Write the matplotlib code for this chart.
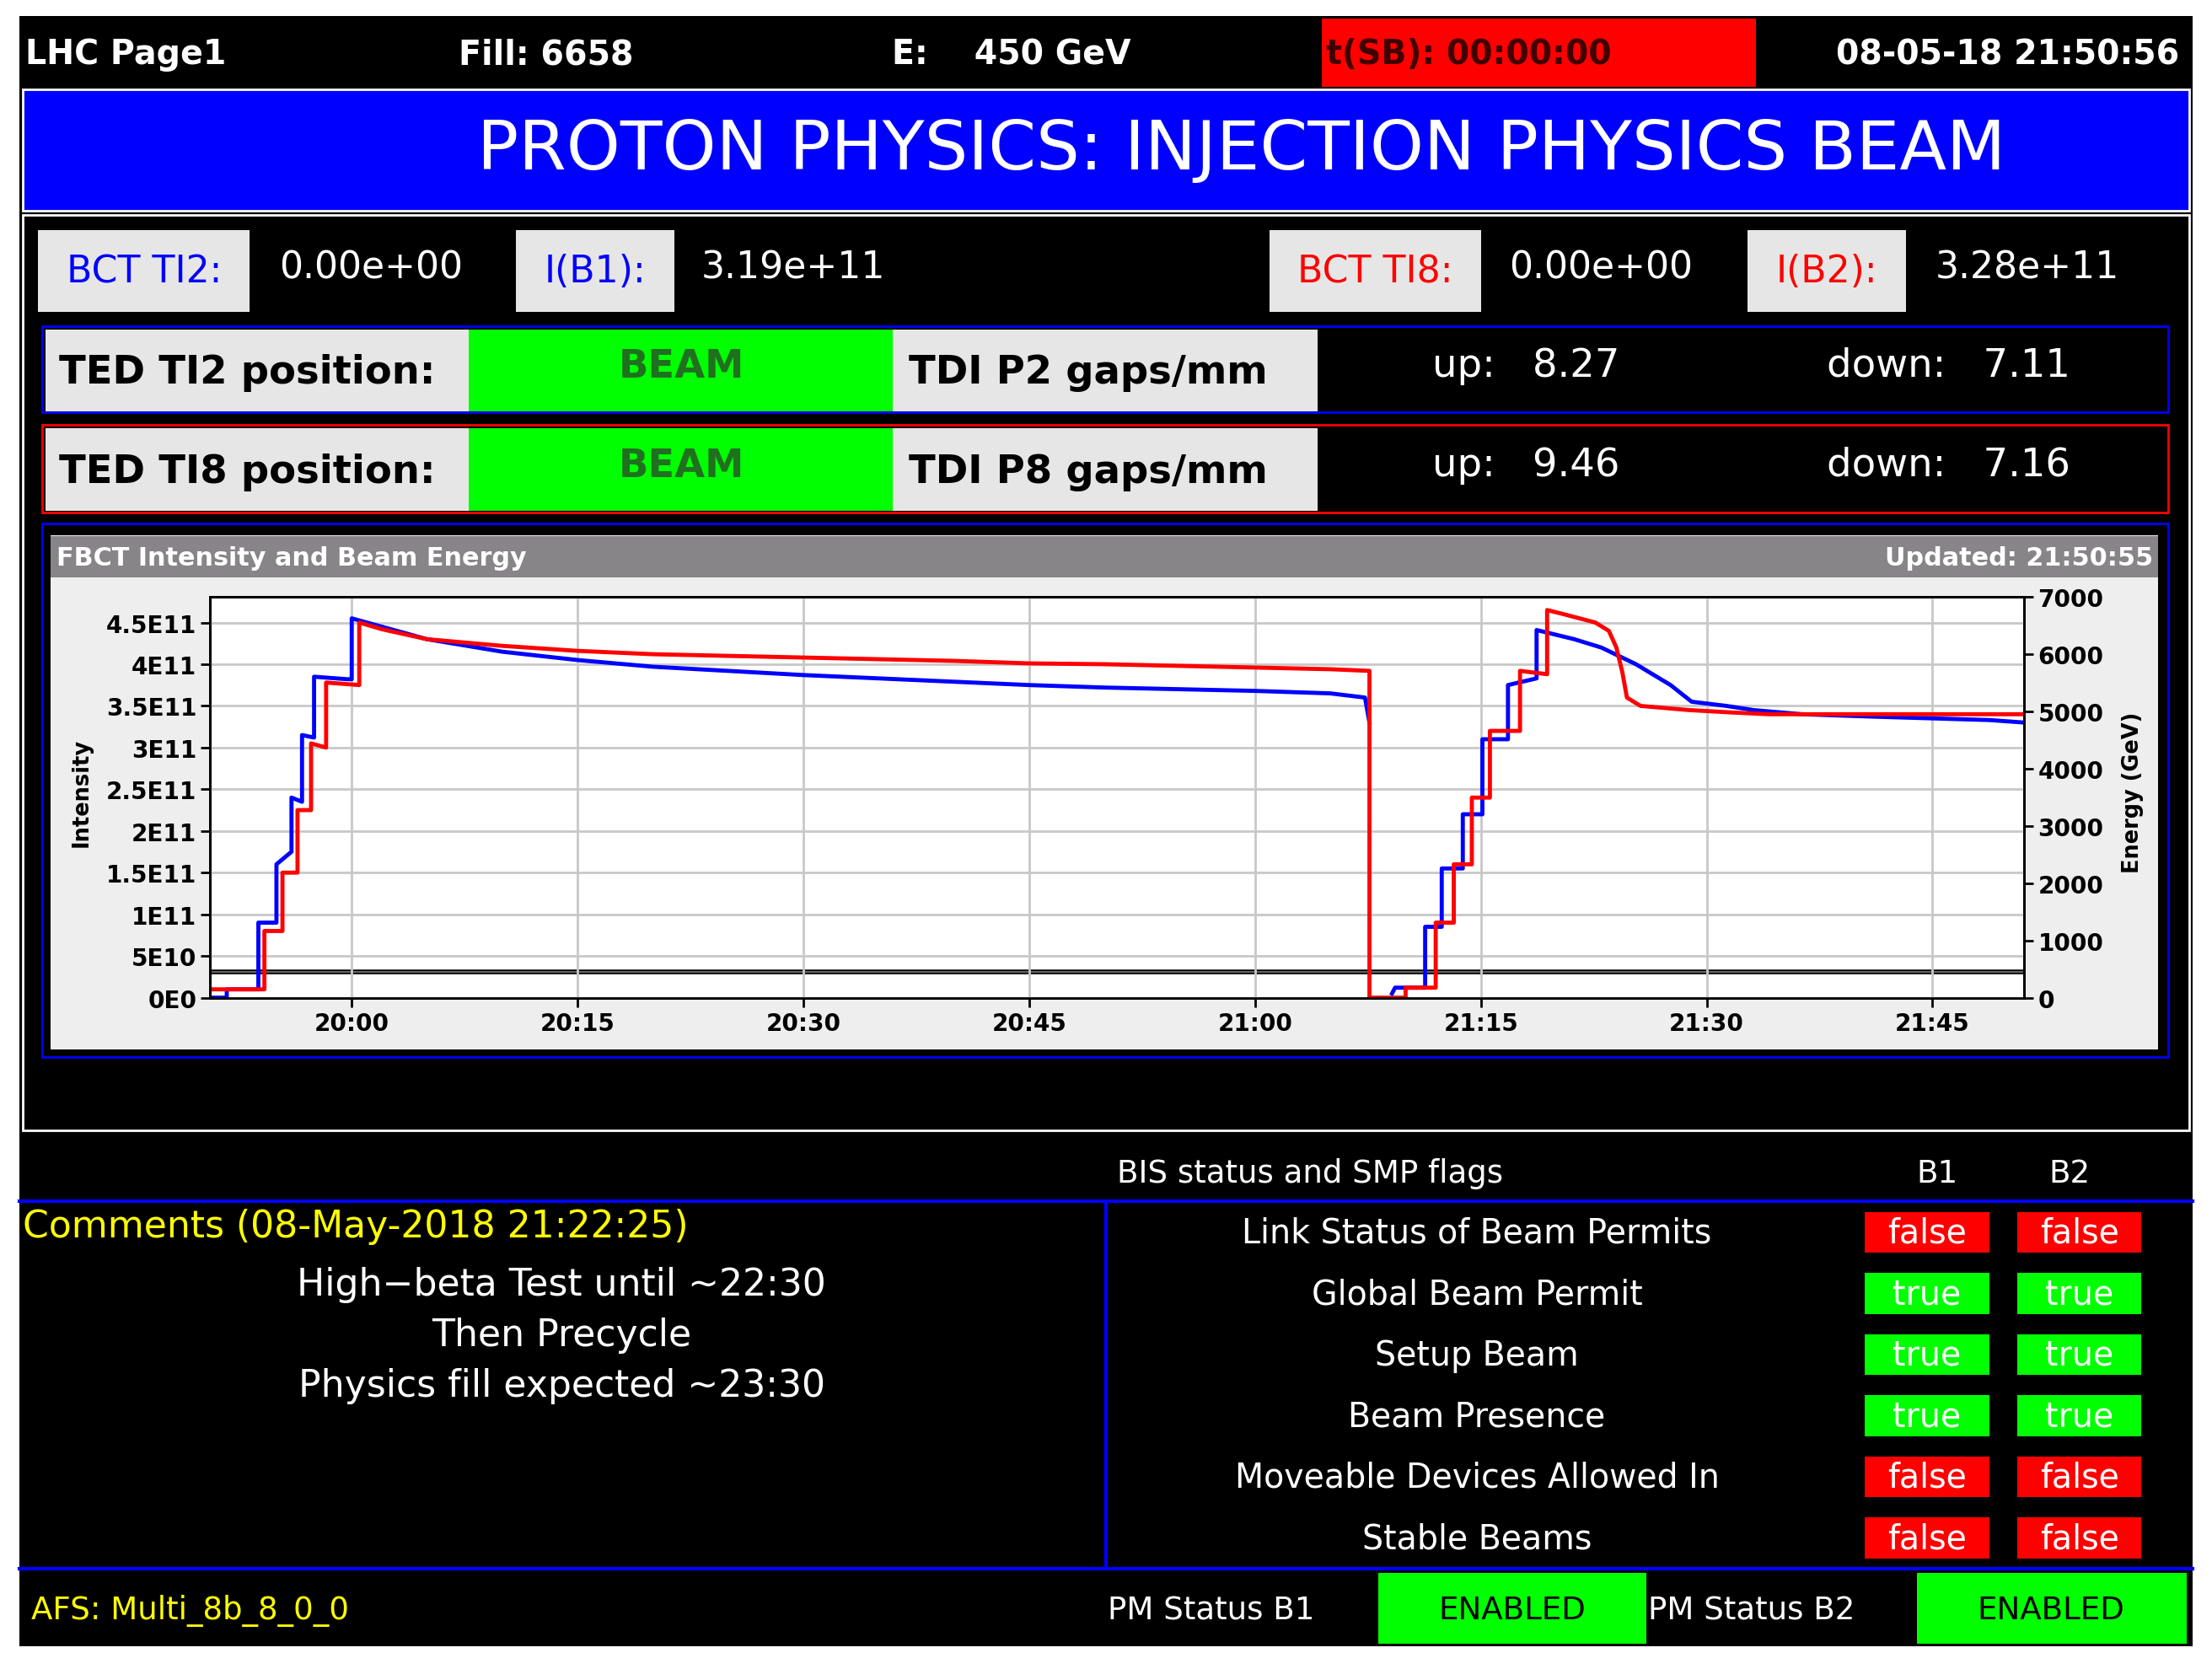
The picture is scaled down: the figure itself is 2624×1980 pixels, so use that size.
import numpy as np
import matplotlib
matplotlib.use("Agg")
import matplotlib.pyplot as plt
from matplotlib.patches import Rectangle

# ---- data (minutes relative to 20:00, intensity in 1e11); vertices of the traces ----
b1_t = [-9.4, -8.3, -8.3, -6.2, -6.2, -5.0, -5.0, -4.0, -4.0, -3.3, -3.3, -2.5, -2.5, -0.3, -0.3, 0.0,
        0.0, 2, 5, 10, 15, 20, 25, 30, 35, 40, 45, 50, 55, 60, 65, 67.3, 67.6, np.nan,
        69.1, 69.3, 71.3, 71.3, 72.4, 72.4, 73.8, 73.8, 75.1, 75.1, 76.8, 76.8, 78.7, 78.7,
        81.2, 83.0, 85.3, 87.6, 89.0, 91.3, 93.1, 96.3, 101.3, 108.8, 111.1]
b1_v = [0.0, 0.0, 0.1, 0.1, 0.9, 0.9, 1.6, 1.75, 2.4, 2.35, 3.15, 3.12, 3.85, 3.82, 3.82, 3.82,
        4.55, 4.45, 4.3, 4.15, 4.05, 3.97, 3.92, 3.87, 3.83, 3.79, 3.75, 3.72, 3.70, 3.68, 3.65, 3.6, 3.3, np.nan,
        0.05, 0.12, 0.12, 0.85, 0.85, 1.55, 1.55, 2.2, 2.2, 3.1, 3.1, 3.75, 3.83, 4.41,
        4.3, 4.2, 4.0, 3.75, 3.55, 3.5, 3.45, 3.4, 3.37, 3.33, 3.3]
b2_t = [-9.4, -5.8, -5.8, -4.6, -4.6, -3.6, -3.6, -2.7, -2.7, -1.7, -1.7, 0.5, 0.5, 2, 5, 10, 15, 20, 25,
        30, 35, 40, 45, 50, 55, 60, 65, 67.6, 67.6,
        70.0, 70.0, 72.0, 72.0, 73.2, 73.2, 74.4, 74.4, 75.6, 75.6, 77.6, 77.6, 79.4, 79.4,
        80.5, 82.6, 83.5, 84.0, 84.4, 84.7, 85.6, 88.8, 91.8, 94.1, 111.1]
b2_v = [0.1, 0.1, 0.8, 0.8, 1.5, 1.5, 2.25, 2.25, 3.05, 3.0, 3.78, 3.75, 4.5, 4.42, 4.3, 4.22, 4.16, 4.12, 4.10,
        4.08, 4.06, 4.04, 4.01, 4.0, 3.98, 3.96, 3.94, 3.92, 0.0,
        0.0, 0.12, 0.12, 0.9, 0.9, 1.6, 1.6, 2.4, 2.4, 3.2, 3.2, 3.92, 3.88, 4.65,
        4.6, 4.5, 4.4, 4.2, 3.9, 3.6, 3.5, 3.45, 3.42, 3.4, 3.4]
energy_t = [-9.4, 111.1]
energy_v = [450, 450]
xticks = [0, 15, 30, 45, 60, 75, 90, 105]
xtick_labels = ["20:00", "20:15", "20:30", "20:45", "21:00", "21:15", "21:30", "21:45"]
yticks = [0, 0.5, 1, 1.5, 2, 2.5, 3, 3.5, 4, 4.5]
ytick_labels = ["0E0", "5E10", "1E11", "1.5E11", "2E11", "2.5E11", "3E11", "3.5E11", "4E11", "4.5E11"]
eticks = [0, 1000, 2000, 3000, 4000, 5000, 6000, 7000]

flag_labels = ["Link Status of Beam Permits", "Global Beam Permit", "Setup Beam",
               "Beam Presence", "Moveable Devices Allowed In", "Stable Beams"]
flag_b1 = [False, True, True, True, False, False]
flag_b2 = [False, True, True, True, False, False]
comments = ["High\u2212beta Test until ~22:30", "Then Precycle", "Physics fill expected ~23:30"]

W, H = 1568, 1184
S = 2624 / W
fig = plt.figure(figsize=(26.24, 19.81), dpi=100)
fig.patch.set_facecolor("white")
bg = fig.add_axes([0, 0, 1, 1])
bg.set_xlim(0, W); bg.set_ylim(H, 0); bg.axis("off")

def rect(x0, y0, x1, y1, fc="none", ec="none", lw=0, z=1):
    bg.add_patch(Rectangle((x0, y0), x1 - x0, y1 - y0, facecolor=fc, edgecolor=ec, linewidth=lw, zorder=z))

def txt(x, y, s, size, color="white", ha="left", weight="normal", **kw):
    bg.text(x, y, s, fontsize=size * S, color=color, ha=ha, va="center", weight=weight, family="DejaVu Sans", zorder=5, **kw)

GREEN = "#00ff00"; RED = "#ff0000"; BLUE = "#0000ff"; GRAY = "#e6e6e6"
rect(14, 12, 1554, 1168, fc="black")
# top bar
txt(18, 39, "LHC Page1", 17, weight="bold")
txt(325, 39, "Fill: 6658", 17, weight="bold")
txt(632, 39, "E:    450 GeV", 17, weight="bold")
rect(937, 14, 1245, 62, fc=RED)
txt(940, 39, "t(SB): 00:00:00", 17, color="#400000", weight="bold")
txt(1545, 39, "08-05-18 21:50:56", 17, ha="right", weight="bold")
rect(16, 64, 1552, 150, fc=BLUE, ec="white", lw=2)
txt(880, 107, "PROTON PHYSICS: INJECTION PHYSICS BEAM", 35, ha="center")
rect(16, 153, 1552, 802, fc="black", ec="white", lw=2)
# BCT row
for x0, x1, lab, col in [(27, 177, "BCT TI2:", BLUE), (366, 478, "I(B1):", BLUE),
                         (900, 1050, "BCT TI8:", RED), (1239, 1351, "I(B2):", RED)]:
    rect(x0, 164, x1, 222, fc=GRAY)
    txt((x0 + x1) / 2, 193, lab, 19, color=col, ha="center")
for x, v in [(198, "0.00e+00"), (497, "3.19e+11"), (1070, "0.00e+00"), (1372, "3.28e+11")]:
    txt(x, 190, v, 19)
# TED rows
for y0, y1, ec, n, up, down in [(232, 293, BLUE, "2", "8.27", "7.11"), (302, 364, RED, "8", "9.46", "7.16")]:
    rect(30, y0, 1537, y1, fc="black", ec=ec, lw=2)
    rect(32, y0 + 2, 332, y1 - 1, fc=GRAY)
    rect(332, y0 + 2, 633, y1 - 1, fc=GREEN)
    rect(633, y0 + 2, 934, y1 - 1, fc=GRAY)
    ym = (y0 + y1) / 2
    txt(42, ym + 2, f"TED TI{n} position:", 20, color="black", weight="bold")
    txt(483, ym - 2, "BEAM", 20, color="#207020", ha="center", weight="bold")
    txt(644, ym + 2, f"TDI P{n} gaps/mm", 20, color="black", weight="bold")
    txt(1015, ym - 3, f"up:   {up}", 20)
    txt(1295, ym - 3, f"down:   {down}", 20)
# chart panel
rect(30, 372, 1537, 750, fc="black", ec=BLUE, lw=2)
rect(36, 380, 1530, 745, fc="#eeeeee")
rect(36, 381, 1530, 410, fc="#878587")
txt(40, 396, "FBCT Intensity and Beam Energy", 13, weight="bold")
txt(1526, 396, "Updated: 21:50:55", 13, ha="right", weight="bold")
txt(58, 562, "Intensity", 11, color="black", ha="center", weight="bold", rotation=90)
txt(1512, 562, "Energy (GeV)", 11, color="black", ha="center", weight="bold", rotation=90)

ax = fig.add_axes([149 / W, 1 - 708 / H, (1435 - 149) / W, (708 - 424) / H])
ax2 = ax.twinx()
ax2.patch.set_visible(True)
ax2.set_facecolor("white")
ax.set_zorder(ax2.get_zorder() + 1); ax.patch.set_visible(False)
ax.set_xlim(-9.4, 111.1)
ax.set_xticks(xticks); ax.set_xticklabels(xtick_labels)
ax.set_yticks(yticks); ax.set_yticklabels(ytick_labels)
ax.grid(True, color="#c8c8c8", lw=2)
ax.tick_params(labelsize=12 * S, length=8, width=2)
for lab in ax.get_xticklabels() + ax.get_yticklabels():
    lab.set_fontweight("bold")
for sp in list(ax.spines.values()) + list(ax2.spines.values()):
    sp.set_linewidth(2)
ax2.set_ylim(0, 7000)
ax2.set_yticks(eticks)
ax2.tick_params(labelsize=12 * S, length=8, width=2)
for lab in ax2.get_yticklabels():
    lab.set_fontweight("bold")
ax2.plot(energy_t, energy_v, color="black", lw=4, zorder=1)
ax2.plot(energy_t, energy_v, color="#666666", lw=1.5, zorder=1)
ax.plot(b1_t, b1_v, color=BLUE, lw=3.5)
ax.plot(b2_t, b2_v, color=RED, lw=3.5)
ax.set_ylim(0, 4.5 * (708 - 424) / (708 - 442))

# bottom section
txt(792, 832, "BIS status and SMP flags", 16)
txt(1373, 832, "B1", 16, ha="center")
txt(1467, 832, "B2", 16, ha="center")
bg.plot([14, 1554], [852, 852], color=BLUE, lw=3, zorder=3)
bg.plot([784, 784], [852, 1113], color=BLUE, lw=3, zorder=3)
bg.plot([14, 1554], [1113, 1113], color=BLUE, lw=3, zorder=3)
txt(16, 870, "Comments (08-May-2018 21:22:25)", 19, color="#ffff00")
for i, c in enumerate(comments):
    txt(398, 911 + 36 * i, c, 19, ha="center")
for i, lab in enumerate(flag_labels):
    y = 875 + 43.3 * i
    txt(1047, y, lab, 17, ha="center")
    for x0, val in [(1322, flag_b1[i]), (1430, flag_b2[i])]:
        rect(x0, y - 15, x0 + 88, y + 14, fc=GREEN if val else RED)
        txt(x0 + 44, y, "true" if val else "false", 17, ha="center")
txt(22, 1142, "AFS: Multi_8b_8_0_0", 16, color="#ffff00")
txt(785, 1142, "PM Status B1", 16)
rect(977, 1116, 1167, 1166, fc=GREEN)
txt(1072, 1142, "ENABLED", 16, color="black", ha="center")
txt(1168, 1142, "PM Status B2", 16)
rect(1359, 1116, 1550, 1166, fc=GREEN)
txt(1454, 1142, "ENABLED", 16, color="black", ha="center")

fig.savefig("out.png", dpi=100, facecolor="white")
